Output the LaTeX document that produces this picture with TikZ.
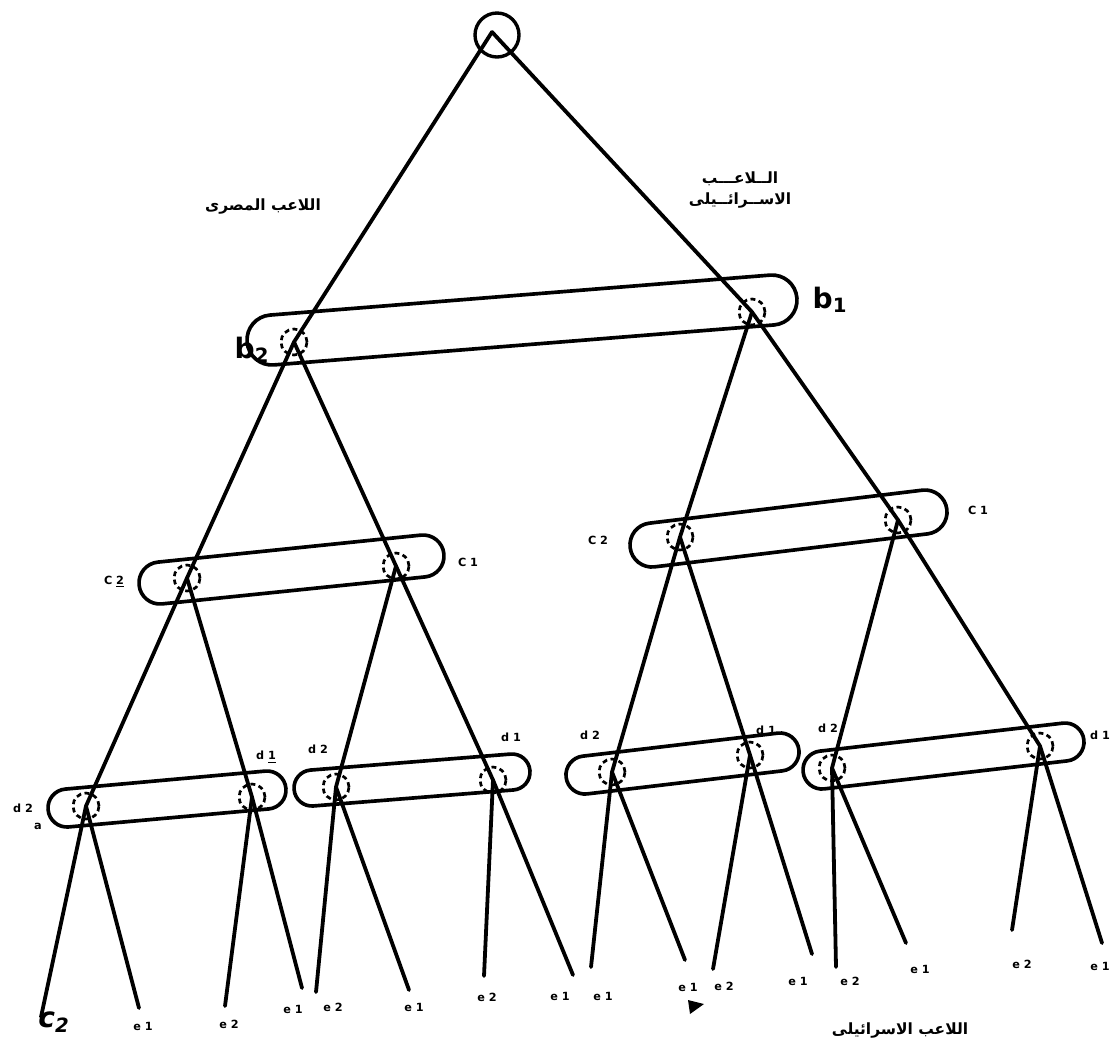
\documentclass[tikz,border=0pt]{standalone}
\usepackage{fontspec}
\newfontfamily\arabicfont[Script=Arabic]{DejaVu Sans}
\newfontfamily\labelfont{DejaVu Sans}
\TeXXeTstate=1
\usetikzlibrary{positioning}
\newcommand{\pxu}{0.025cm}

\begin{document}
\begin{tikzpicture}[
  x=\pxu, y=-\pxu,
  %--- lines ---
  edge/.style={line width=2.7pt, line cap=round},
  %--- decision points ---
  rootnode/.style={draw, circle, line width=2.4pt, minimum size=44*\pxu, inner sep=0pt},
  dnode/.style={draw, circle, dash pattern=on 3.5pt off 2.5pt, line width=1.9pt,
    minimum size=26*\pxu, inner sep=0pt},
  %--- information sets ---
  infoset/.style={draw, line width=2.6pt, rectangle, inner sep=0pt},
  %--- labels ---
  setlabel/.style={font=\fontsize{8}{9}\selectfont\labelfont\bfseries, inner sep=0pt},
  leaf/.style={font=\fontsize{8}{9}\selectfont\labelfont\bfseries, inner sep=0pt},
  biglabel/.style={font=\fontsize{20}{22}\selectfont\labelfont\bfseries, inner sep=0pt},
  player/.style={font=\fontsize{11}{15}\selectfont\arabicfont\bfseries, inner sep=0pt, align=center}
]
\useasboundingbox (0,0) rectangle (1116,1042);

%% ── ROOT ────────────────────────────────────────────────────────────────────
\node[rootnode] (root) at (497,35) {};
\coordinate (apex) at (492,32);

%% ── INFORMATION SETS ────────────────────────────────────────────────────────
\node[infoset, minimum width=551.6*\pxu, minimum height=50*\pxu, rounded corners=24.9*\pxu, rotate=4.57] (bset) at (522,320) {};
\node[infoset, minimum width=306.4*\pxu, minimum height=42*\pxu, rounded corners=20.9*\pxu, rotate=5.86] (cleft) at (291.5,569.5) {};
\node[infoset, minimum width=319*\pxu, minimum height=44*\pxu, rounded corners=21.9*\pxu, rotate=6.89] (cright) at (788.5,528.5) {};
\node[infoset, minimum width=238.8*\pxu, minimum height=38*\pxu, rounded corners=18.9*\pxu, rotate=5.14] (dsetA) at (167,799) {};
\node[infoset, minimum width=236.6*\pxu, minimum height=36*\pxu, rounded corners=17.9*\pxu, rotate=4.57] (dsetB) at (412,780) {};
\node[infoset, minimum width=234.4*\pxu, minimum height=38*\pxu, rounded corners=18.9*\pxu, rotate=6.73] (dsetC) at (682.5,763.5) {};
\node[infoset, minimum width=282.6*\pxu, minimum height=38*\pxu, rounded corners=18.9*\pxu, rotate=6.57] (dsetD) at (943.5,756) {};

%% ── DECISION NODES ──────────────────────────────────────────────────────────
\node[dnode] (b2) at (294,342) {};
\node[dnode] (b1) at (752,312) {};
\node[dnode] (c2L) at (187,578) {};
\node[dnode] (c1L) at (396,566) {};
\node[dnode] (c2R) at (680,537) {};
\node[dnode] (c1R) at (898,520) {};
\node[dnode] (dA2) at (86,806) {};
\node[dnode] (dA1) at (252,797) {};
\node[dnode] (dB2) at (336,787) {};
\node[dnode] (dB1) at (493,780) {};
\node[dnode] (dC2) at (612,772) {};
\node[dnode] (dC1) at (750,755) {};
\node[dnode] (dD2) at (832,768) {};
\node[dnode] (dD1) at (1040,746) {};

%% ── LEAF ENDS ───────────────────────────────────────────────────────────────
\coordinate (l1) at (41,1017);
\coordinate (l2) at (139,1008);
\coordinate (l3) at (225,1006);
\coordinate (l4) at (302,988);
\coordinate (l5) at (316,992);
\coordinate (l6) at (409,990);
\coordinate (l7) at (484,976);
\coordinate (l8) at (573,975);
\coordinate (l9) at (591,967);
\coordinate (l10) at (685,960);
\coordinate (l11) at (713,969);
\coordinate (l12) at (812,954);
\coordinate (l13) at (836,967);
\coordinate (l14) at (906,943);
\coordinate (l15) at (1012,930);
\coordinate (l16) at (1102,943);

%% ── BRANCHES ────────────────────────────────────────────────────────────────
\draw[edge] (apex) -- (b2.center);
\draw[edge] (apex) -- (b1.center);
\draw[edge] (b2.center) -- (c2L.center);
\draw[edge] (b2.center) -- (c1L.center);
\draw[edge] (b1.center) -- (c2R.center);
\draw[edge] (b1.center) -- (c1R.center);
\draw[edge] (c2L.center) -- (dA2.center);
\draw[edge] (c2L.center) -- (dA1.center);
\draw[edge] (c1L.center) -- (dB2.center);
\draw[edge] (c1L.center) -- (dB1.center);
\draw[edge] (c2R.center) -- (dC2.center);
\draw[edge] (c2R.center) -- (dC1.center);
\draw[edge] (c1R.center) -- (dD2.center);
\draw[edge] (c1R.center) -- (dD1.center);
\draw[edge] (dA2.center) -- (l1);
\draw[edge] (dA2.center) -- (l2);
\draw[edge] (dA1.center) -- (l3);
\draw[edge] (dA1.center) -- (l4);
\draw[edge] (dB2.center) -- (l5);
\draw[edge] (dB2.center) -- (l6);
\draw[edge] (dB1.center) -- (l7);
\draw[edge] (dB1.center) -- (l8);
\draw[edge] (dC2.center) -- (l9);
\draw[edge] (dC2.center) -- (l10);
\draw[edge] (dC1.center) -- (l11);
\draw[edge] (dC1.center) -- (l12);
\draw[edge] (dD2.center) -- (l13);
\draw[edge] (dD2.center) -- (l14);
\draw[edge] (dD1.center) -- (l15);
\draw[edge] (dD1.center) -- (l16);

%% ── PLAYER NAMES ────────────────────────────────────────────────────────────
\node[player] (egypt) at (263,207) {\beginR اللاعب المصرى\endR};
\node[player] (israel) at (740,190) {\beginR الــلاعـــب\endR\\\beginR الاســرائــيلى\endR};
\node[player] (israelB) at (900,1030) {\beginR اللاعب الاسرائيلى\endR};

%% ── SET LABELS ──────────────────────────────────────────────────────────────
\node[biglabel] (lb2) at (252,350) {b\textsubscript{2}};
\node[biglabel] (lb1) at (830,300) {b\textsubscript{1}};
\node[setlabel] (lc2L) at (114,582) {C \underline{2}};
\node[setlabel] (lc1L) at (468,562) {C 1};
\node[setlabel] (lc2R) at (598,540) {C 2};
\node[setlabel] (lc1R) at (978,510) {C 1};
\node[setlabel] (ldA2) at (23,808) {d 2};
\node[setlabel] (lmark) at (38,826) {a};
\node[setlabel] (ldA1) at (266,757) {d \underline{1}};
\node[setlabel] (ldB2) at (318,749) {d 2};
\node[setlabel] (ldB1) at (511,737) {d 1};
\node[setlabel] (ldC2) at (590,735) {d 2};
\node[setlabel] (ldC1) at (766,730) {d 1};
\node[setlabel] (ldD2) at (828,728) {d 2};
\node[setlabel] (ldD1) at (1100,735) {d 1};

%% ── LEAF LABELS ─────────────────────────────────────────────────────────────
\node[biglabel] (e1) at (54,1022) {\itshape c\textsubscript{2}};
\node[leaf] (e2) at (143,1026) {e 1};
\node[leaf] (e3) at (229,1024) {e 2};
\node[leaf] (e4) at (293,1009) {e 1};
\node[leaf] (e5) at (333,1007) {e 2};
\node[leaf] (e6) at (414,1007) {e 1};
\node[leaf] (e7) at (487,997) {e 2};
\node[leaf] (e8) at (560,996) {e 1};
\node[leaf] (e9) at (603,996) {e 1};
\node[leaf] (e10) at (688,987) {e 1};
\node[leaf] (e11) at (724,986) {e 2};
\node[leaf] (e12) at (798,981) {e 1};
\node[leaf] (e13) at (850,981) {e 2};
\node[leaf] (e14) at (920,969) {e 1};
\node[leaf] (e15) at (1022,964) {e 2};
\node[leaf] (e16) at (1100,966) {e 1};

% stray mark under the leaves
\fill (688,1000) -- (704,1004) -- (690,1014) -- cycle;
\end{tikzpicture}
\end{document}
